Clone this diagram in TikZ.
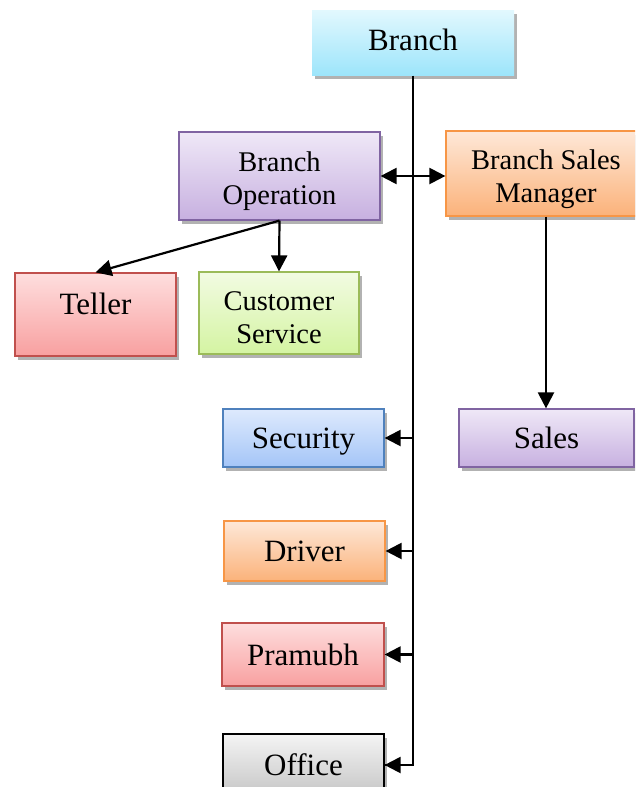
\documentclass[tikz,border=0pt]{standalone}
\usepackage{fontspec}
\setmainfont{Liberation Serif}
\usetikzlibrary{arrows.meta,shadows}

\definecolor{cyantop}{HTML}{E2F8FE}
\definecolor{cyanbot}{HTML}{9DE5FB}
\definecolor{purptop}{HTML}{EFE8F7}
\definecolor{purpbot}{HTML}{C7B0E0}
\definecolor{purpline}{HTML}{8064A2}
\definecolor{orantop}{HTML}{FEE8D8}
\definecolor{oranbot}{HTML}{FBB27A}
\definecolor{oranline}{HTML}{F79646}
\definecolor{redtop}{HTML}{FEDEDE}
\definecolor{redbot}{HTML}{F8A0A0}
\definecolor{redline}{HTML}{C0504D}
\definecolor{greentop}{HTML}{F2FBE2}
\definecolor{greenbot}{HTML}{D4F4A2}
\definecolor{greenline}{HTML}{9BBB59}
\definecolor{bluetop}{HTML}{DEEAFD}
\definecolor{bluebot}{HTML}{A4C5F7}
\definecolor{blueline}{HTML}{4F81BD}
\definecolor{graytop}{HTML}{F4F4F4}
\definecolor{graybot}{HTML}{C6C6C6}

\begin{document}
\begin{tikzpicture}[x=1pt,y=-1pt,
	box/.style={line width=1.2pt,inner sep=0pt,align=center,
		drop shadow={shadow xshift=2.5pt,shadow yshift=-4pt,opacity=0.3,fill=black}},
	oneline/.style={font=\fontsize{31}{36}\selectfont,text height=21pt,text depth=0pt},
	twoline/.style={font=\fontsize{28.5}{33}\selectfont},
	cyanbox/.style={box,draw=none,top color=cyantop,bottom color=cyanbot},
	purpbox/.style={box,draw=purpline,top color=purptop,bottom color=purpbot},
	oranbox/.style={box,draw=oranline,top color=orantop,bottom color=oranbot},
	redbox/.style={box,draw=redline,top color=redtop,bottom color=redbot},
	greenbox/.style={box,draw=greenline,top color=greentop,bottom color=greenbot},
	bluebox/.style={box,draw=blueline,top color=bluetop,bottom color=bluebot},
	graybox/.style={box,draw=black,top color=graytop,bottom color=graybot},
	tip/.tip={Triangle[length=16pt,width=16pt]},
	link/.style={line width=2.2pt,-tip},
	]
	\path[use as bounding box,clip] (0,0) rectangle (635,787);
	%\draw[help lines] (0,0) grid[step=50] (635,787);

	\node[cyanbox, oneline, text depth=6pt, minimum width=202pt, minimum height=65pt] (branch) at (413,42.5) {Branch};
	\node[purpbox, twoline, minimum width=201pt, minimum height=88pt] (operation) at (279.5,176) {\rule{0pt}{30pt}Branch\\Operation};
	\node[oranbox, twoline, minimum width=200pt, minimum height=85pt] (manager) at (546,173.5) {\rule{0pt}{31pt}Branch Sales\\Manager};
	\node[redbox, oneline, text depth=21pt, minimum width=161pt, minimum height=83pt] (teller) at (95.5,314.5) {Teller};
	\node[greenbox, twoline, minimum width=160pt, minimum height=82pt] (customer) at (279,313) {\rule{0pt}{28pt}Customer\\Service};
	\node[bluebox, oneline, minimum width=161pt, minimum height=58pt] (security) at (303.5,438) {Security};
	\node[purpbox, oneline, minimum width=175pt, minimum height=58pt] (sales) at (546.5,438) {Sales};
	\node[oranbox, oneline, minimum width=161pt, minimum height=60pt] (driver) at (304.5,551) {Driver};
	\node[redbox, oneline, minimum width=162pt, minimum height=63pt] (pramubh) at (303,654.5) {Pramubh};
	\node[graybox, oneline, minimum width=161pt, minimum height=62pt] (office) at (303.5,765) {Office};

	% trunk from Branch
	\draw[line width=2.2pt] (branch.south) -- (branch.south |- office.east) -- (office.east);
	\draw[link] (office.east -| branch.south) -- (office.east);
	\draw[link] (security.east -| branch.south) -- (security.east);
	\draw[link] (driver.east -| branch.south) -- (driver.east);
	\draw[link] (pramubh.east -| branch.south) -- (pramubh.east);

	\draw[link, tip-tip] (operation.east) -- (operation.east -| manager.west);
	\draw[link] (operation.south) -- (teller.north);
	\draw[link] (operation.south) -- (customer.north);
	\draw[link] (manager.south) -- (manager.south |- sales.north);
\end{tikzpicture}
\end{document}
